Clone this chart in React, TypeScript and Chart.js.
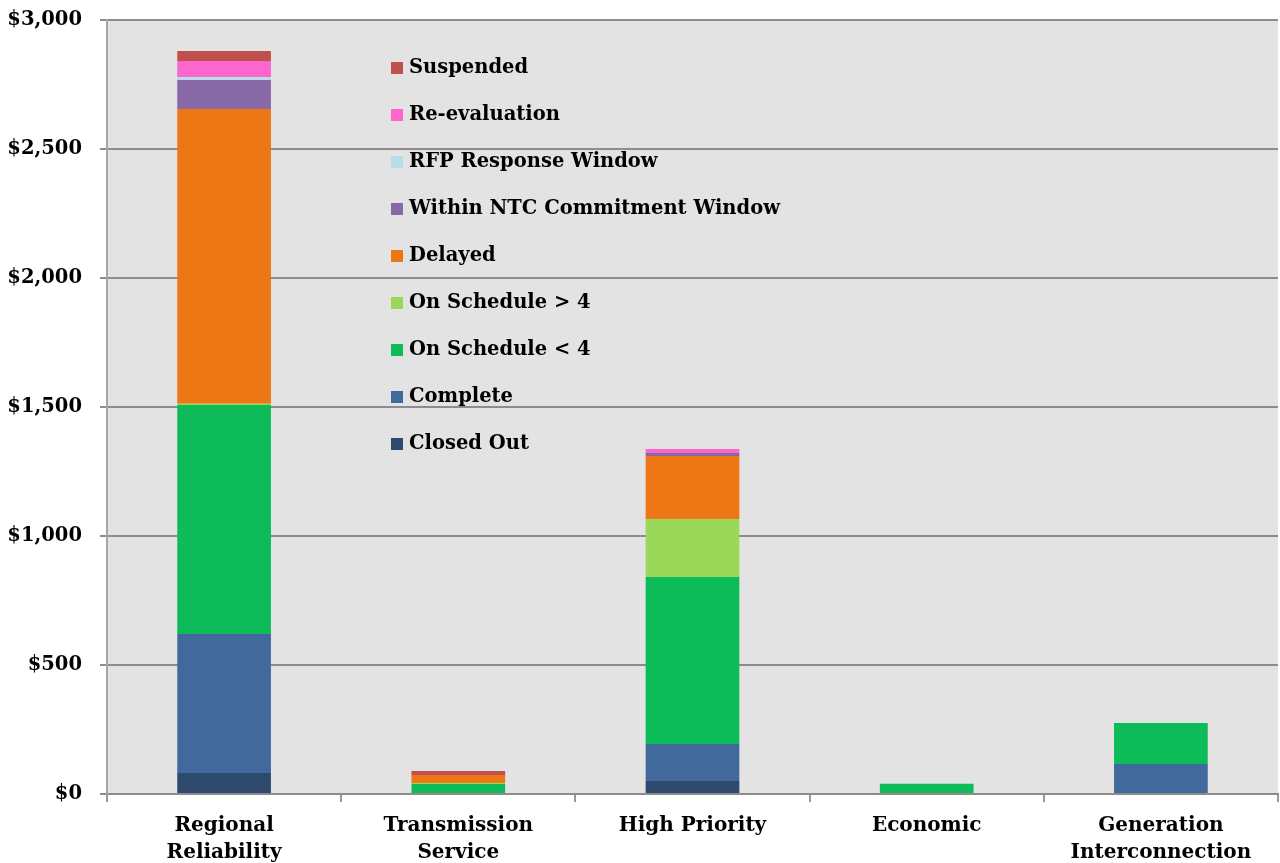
import React, { useEffect, useRef } from "react";
import { Chart, registerables } from "chart.js";

Chart.register(...registerables);

const categories: (string | string[])[] = [
  ["Regional", "Reliability"],
  ["Transmission", "Service"],
  "High Priority",
  "Economic",
  ["Generation", "Interconnection"],
];

const seriesNames = [
  "Closed Out",
  "Complete",
  "On Schedule < 4",
  "On Schedule > 4",
  "Delayed",
  "Within NTC Commitment Window",
  "RFP Response Window",
  "Re-evaluation",
  "Suspended",
];

const closedOut = [81, 0, 50, 0, 0];
const complete = [539, 0, 144, 0, 116];
const onScheduleLess4 = [888, 39, 647, 40, 159];
const onScheduleMore4 = [5, 4, 225, 0, 0];
const delayed = [1142, 31, 244, 0, 0];
const withinNTC = [112, 0, 12, 0, 0];
const rfpResponse = [12, 0, 0, 0, 0];
const reEvaluation = [62, 0, 15, 0, 0];
const suspended = [39, 15, 0, 0, 0];

const yTicks = [0, 500, 1000, 1500, 2000, 2500, 3000];

const seriesValues = [
  closedOut,
  complete,
  onScheduleLess4,
  onScheduleMore4,
  delayed,
  withinNTC,
  rfpResponse,
  reEvaluation,
  suspended,
];

const colors = [
  "#2d4a6c",
  "#41699b",
  "#0dbb58",
  "#9bd758",
  "#ee7715",
  "#8669a6",
  "#b8dde8",
  "#fd66cc",
  "#c0504d",
];

const FONT = "'DejaVu Serif', 'Liberation Serif', serif";

const bgPlugin = {
  id: "plotBg",
  beforeDraw(chart: any) {
    const { ctx, chartArea } = chart;
    ctx.save();
    ctx.fillStyle = "#e3e3e3";
    ctx.fillRect(chartArea.left, chartArea.top, chartArea.right - chartArea.left, chartArea.bottom - chartArea.top);
    ctx.restore();
  },
};

const legendPlugin = {
  id: "insideLegend",
  afterDraw(chart: any) {
    const { ctx, chartArea } = chart;
    const ds = chart.data.datasets;
    ctx.save();
    ctx.font = `bold 19.5px ${FONT}`;
    ctx.textBaseline = "middle";
    ctx.textAlign = "left";
    const x0 = chartArea.left + 284;
    const y0 = chartArea.top + 48;
    let row = 0;
    for (let i = ds.length - 1; i >= 0; i--) {
      const y = y0 + row * 47;
      ctx.fillStyle = ds[i].backgroundColor;
      ctx.fillRect(x0, y - 6, 12, 12);
      ctx.fillStyle = "#000";
      ctx.fillText(ds[i].label, x0 + 18, y);
      row++;
    }
    ctx.restore();
  },
};

export default function App() {
  const ref = useRef<HTMLCanvasElement | null>(null);
  useEffect(() => {
    if (!ref.current) return;
    const chart = new Chart(ref.current, {
      type: "bar",
      data: {
        labels: categories as any,
        datasets: seriesNames.map((name, i) => ({
          label: name,
          data: seriesValues[i],
          backgroundColor: colors[i],
          borderWidth: 0,
          stack: "s",
          barPercentage: 0.4,
          categoryPercentage: 1,
        })),
      },
      options: {
        animation: false,
        responsive: true,
        maintainAspectRatio: false,
        layout: { padding: { top: 20, right: 2, left: 0, bottom: 0 } },
        plugins: {
          legend: { display: false },
          tooltip: { enabled: false },
        },
        scales: {
          x: {
            stacked: true,
            afterFit: (s: any) => {
              s.height = 69;
              s.paddingLeft = 0;
              s.paddingRight = 0;
            },
            grid: {
              drawOnChartArea: false,
              drawTicks: true,
              tickLength: 8,
              color: "#9a9a9a",
              lineWidth: 2,
              offset: true,
            },
            border: { display: true, color: "#8c8c8c", width: 2 },
            ticks: {
              color: "#000",
              padding: 10,
              font: { family: FONT, weight: "bold", size: 20, lineHeight: 1.35 },
              maxRotation: 0,
              autoSkip: false,
            },
          },
          y: {
            stacked: true,
            min: 0,
            max: 3000,
            afterFit: (s: any) => {
              s.width = 107;
              s.paddingTop = 0;
              s.paddingBottom = 0;
            },
            afterBuildTicks: (s: any) => {
              s.ticks = yTicks.map((v) => ({ value: v }));
            },
            grid: {
              color: "#8c8c8c",
              lineWidth: 2,
              tickLength: 7,
              drawTicks: true,
            },
            border: { display: true, color: "#a6a6a6", width: 2 },
            ticks: {
              color: "#000",
              padding: 18,
              font: { family: FONT, weight: "bold", size: 19.5 },
              callback: (v: any) => "$" + String(v).replace(/\B(?=(\d{3})+(?!\d))/g, ","),
            },
          },
        },
      },
      plugins: [bgPlugin, legendPlugin],
    });
    return () => chart.destroy();
  }, []);
  return (
    <div style={{ position: "absolute", left: 0, top: 0, width: 1280, height: 863, background: "#fff" }}>
      <canvas ref={ref} />
    </div>
  );
}
